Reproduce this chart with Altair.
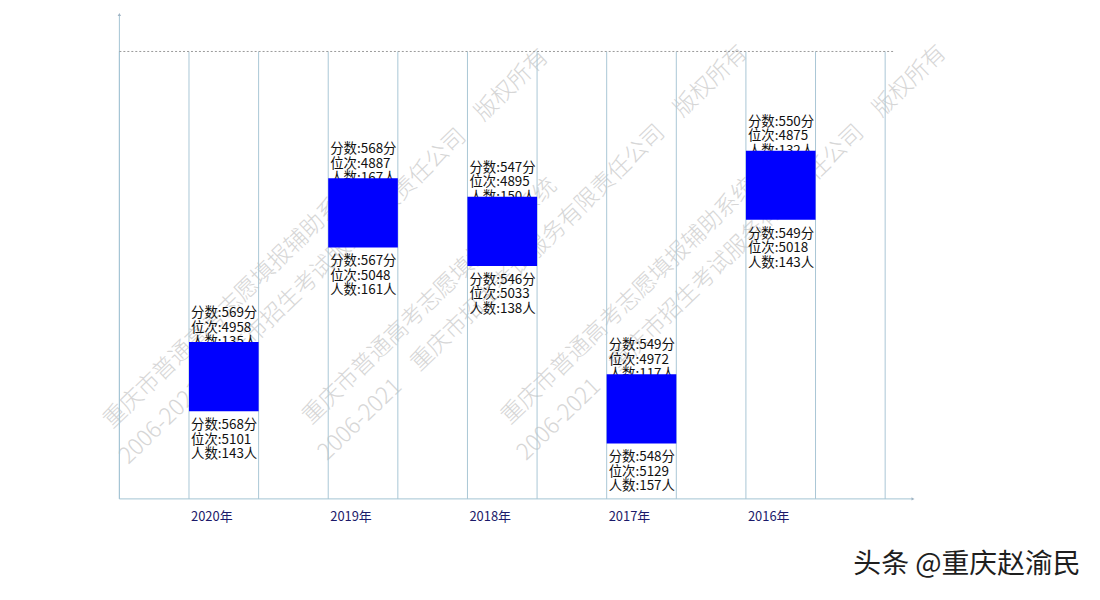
import altair as alt
import pandas as pd

# ---- data ----
years = ["2020年", "2019年", "2018年", "2017年", "2016年"]
hi_score = [569, 568, 547, 549, 550]
hi_rank = [4958, 4887, 4895, 4972, 4875]
hi_count = [135, 167, 150, 117, 132]
lo_score = [568, 567, 546, 548, 549]
lo_rank = [5101, 5048, 5033, 5129, 5018]
lo_count = [143, 161, 138, 157, 143]

RANK_SPAN = 30          # each bar is drawn 30 ranks tall from its upper rank
Y_BOTTOM, Y_TOP = 5026, 4816
REF_LINE = 4832
N_SLOTS = 11

WM_LINE1 = "重庆市普通高考志愿填报辅助系统"
WM_LINE2 = "2006-2021\u3000重庆市招生考试服务有限责任公司\u3000版权所有"
BRAND = "头条 @重庆赵渝民"

FONT = "Noto Sans CJK SC"
W, H = 798, 487

df = pd.DataFrame({
    "year": years,
    "hi_rank": hi_rank,
})
df["slot"] = [2 * i + 1 for i in range(len(years))]
df["slot_end"] = df["slot"] + 1
df["rank_end"] = df["hi_rank"] + RANK_SPAN
df["top_label"] = [f"分数:{s}分\n位次:{r}\n人数:{c}人" for s, r, c in zip(hi_score, hi_rank, hi_count)]
df["bot_label"] = [f"分数:{s}分\n位次:{r}\n人数:{c}人" for s, r, c in zip(lo_score, lo_rank, lo_count)]

xscale = alt.Scale(domain=[0, 11.4], nice=False, zero=False)
yscale = alt.Scale(domain=[Y_BOTTOM, Y_TOP], nice=False, zero=False)

grid_df = pd.DataFrame({"slot": list(range(N_SLOTS + 1))})

# watermark (decoration)
wm_parts = []
for bx, by in [(0, 0), (200, -4), (400, -4)]:
    for txt, px, py in [(WM_LINE1, -12 + bx, 412 + by), (WM_LINE2, 4 + bx, 448 + by)]:
        wm_parts.append(
            alt.Chart(pd.DataFrame({"t": [txt]})).mark_text(
                align="left", baseline="middle", angle=316, fontSize=23,
                font=FONT, color="#d6d6d6", fontWeight=300
            ).encode(text="t:N", x=alt.value(px), y=alt.value(py))
        )

grid = alt.Chart(grid_df).mark_rule(color="#a9c7d6", strokeWidth=1).encode(
    x=alt.X("slot:Q", scale=xscale, axis=None),
    y=alt.Y(datum=REF_LINE, scale=yscale, axis=None),
    y2=alt.Y2(datum=Y_BOTTOM),
)

y_axis_line = alt.Chart(pd.DataFrame({"a": [0]})).mark_rule(color="#a3c4d4", strokeWidth=1).encode(
    x=alt.X(datum=0, scale=xscale, axis=None),
    y=alt.Y(datum=Y_BOTTOM, scale=yscale, axis=None),
    y2=alt.Y2(datum=Y_TOP),
)

x_axis_line = alt.Chart(pd.DataFrame({"a": [0]})).mark_rule(color="#a3c4d4", strokeWidth=1).encode(
    x=alt.X(datum=0, scale=xscale, axis=None),
    x2=alt.X2(datum=11.4),
    y=alt.Y(datum=Y_BOTTOM, scale=yscale, axis=None),
)

dashed = alt.Chart(pd.DataFrame({"a": [0]})).mark_rule(
    color="#9a9a9a", strokeDash=[2, 2], strokeWidth=1
).encode(
    x=alt.X(datum=0, scale=xscale, axis=None),
    x2=alt.X2(datum=11.12),
    y=alt.Y(datum=REF_LINE, scale=yscale, axis=None),
)

arrow_up = alt.Chart(pd.DataFrame({"a": [0]})).mark_point(
    shape="triangle-up", filled=True, size=12, color="#a0b4c4", opacity=1
).encode(x=alt.X(datum=0, scale=xscale, axis=None), y=alt.Y(datum=Y_TOP, scale=yscale, axis=None))

arrow_right = alt.Chart(pd.DataFrame({"a": [0]})).mark_point(
    shape="triangle-right", filled=True, size=12, color="#a0b4c4", opacity=1
).encode(x=alt.X(datum=11.4, scale=xscale, axis=None), y=alt.Y(datum=Y_BOTTOM, scale=yscale, axis=None))

base = alt.Chart(df)

bars = base.mark_rect(color="#0000ff").encode(
    x=alt.X("slot:Q", scale=xscale, axis=None),
    x2="slot_end:Q",
    y=alt.Y("hi_rank:Q", scale=yscale, axis=None),
    y2="rank_end:Q",
)

top_text = base.mark_text(
    align="left", baseline="top", dx=2, dy=-36, fontSize=13.5, font=FONT,
    lineBreak="\n", lineHeight=14.5, color="#111111"
).encode(x=alt.X("slot:Q", scale=xscale, axis=None),
         y=alt.Y("hi_rank:Q", scale=yscale, axis=None), text="top_label:N")

bot_text = base.mark_text(
    align="left", baseline="top", dx=2, dy=7, fontSize=13.5, font=FONT,
    lineBreak="\n", lineHeight=14.5, color="#111111"
).encode(x=alt.X("slot:Q", scale=xscale, axis=None),
         y=alt.Y("rank_end:Q", scale=yscale, axis=None), text="bot_label:N")

xlabels = base.mark_text(
    align="left", baseline="middle", dx=2, fontSize=13, font=FONT, color="#1c1a6a"
).encode(x=alt.X("slot:Q", scale=xscale, axis=None), y=alt.value(H + 18), text="year:N")

brand = alt.Chart(pd.DataFrame({"t": [BRAND]})).mark_text(
    align="left", baseline="middle", fontSize=28, font=FONT, color="#1e1e1e"
).encode(text="t:N", x=alt.value(738), y=alt.value(554))

chart = alt.layer(
    *wm_parts, grid, y_axis_line, x_axis_line, dashed, arrow_up, arrow_right,
    top_text, bars, bot_text, xlabels, brand
).properties(
    width=W, height=H,
    background="white",
    autosize=alt.AutoSizeParams(type="none"),
    padding={"left": 112, "top": 5, "right": 180, "bottom": 92},
).configure_view(stroke=None)

chart.save("out.html", embed_options={"renderer": "svg", "actions": False})
